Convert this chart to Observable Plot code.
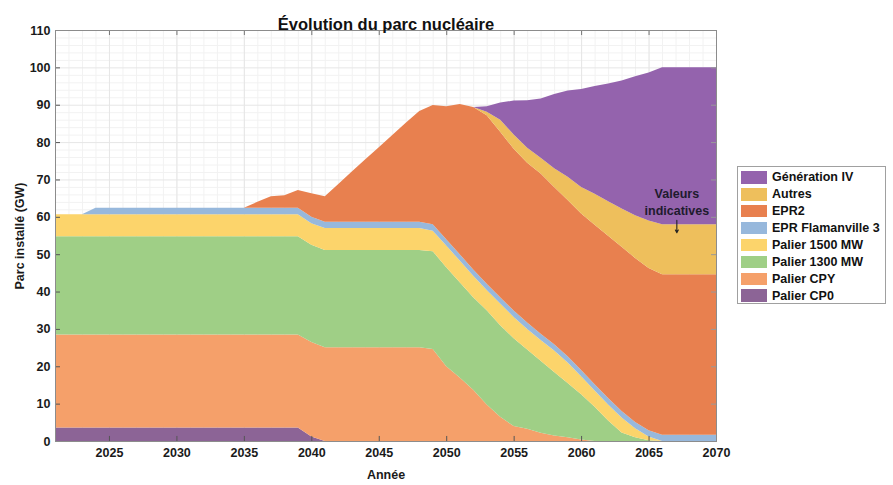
<!DOCTYPE html>
<html><head><meta charset="utf-8">
<script src="https://cdn.jsdelivr.net/npm/d3@7"></script>
<script src="https://cdn.jsdelivr.net/npm/@observablehq/plot@0.6"></script>
<style>
body{margin:0;background:#fff;font-family:"Liberation Sans",Arial,sans-serif;}
#wrap{position:relative;width:893px;height:485px;}
#wrap svg text{font-weight:bold;}
#legend{position:absolute;left:737px;top:166px;width:149px;height:138px;border:1px solid #a0a0a0;background:#fff;box-sizing:border-box;padding-top:2px;}
.row{display:flex;align-items:center;height:16.9px;}
.sw{width:26px;height:12.5px;margin-left:3px;margin-right:5px;flex:none;}
.lab{font-weight:bold;font-size:12.5px;color:#111;white-space:nowrap;}
</style></head>
<body><div id="wrap"></div>
<script>
const years = [2021,2022,2023,2024,2025,2026,2027,2028,2029,2030,
  2031,2032,2033,2034,2035,2036,2037,2038,2039,2040,
  2041,2042,2043,2044,2045,2046,2047,2048,2049,2050,
  2051,2052,2053,2054,2055,2056,2057,2058,2059,2060,
  2061,2062,2063,2064,2065,2066,2067,2068,2069,2070];

const seriesNames = ["Palier CP0","Palier CPY","Palier 1300 MW","Palier 1500 MW","EPR Flamanville 3","EPR2","Autres","Génération IV"];
const seriesColors = ["#8C6496","#F5A06A","#9FCF86","#FCD46B","#97B8DC","#E8804F","#EEBF5C","#9463AD"];

const cp0 = [3.6,3.6,3.6,3.6,3.6,3.6,3.6,3.6,3.6,3.6,
  3.6,3.6,3.6,3.6,3.6,3.6,3.6,3.6,3.6,1.2,
  0,0,0,0,0,0,0,0,0,0,
  0,0,0,0,0,0,0,0,0,0,
  0,0,0,0,0,0,0,0,0,0];
const cpy = [24.9,24.9,24.9,24.9,24.9,24.9,24.9,24.9,24.9,24.9,
  24.9,24.9,24.9,24.9,24.9,24.9,24.9,24.9,24.9,25.3,
  25.1,25.1,25.1,25.1,25.1,25.1,25.1,25.1,24.6,20.0,
  17.0,13.7,9.8,6.5,4.0,3.3,2.2,1.5,1.0,0.4,
  0,0,0,0,0,0,0,0,0,0];
const p1300 = [26.3,26.3,26.3,26.3,26.3,26.3,26.3,26.3,26.3,26.3,
  26.3,26.3,26.3,26.3,26.3,26.3,26.3,26.3,26.3,26.0,
  26.0,26.0,26.0,26.0,26.0,26.0,26.0,26.0,26.2,26.5,
  25.5,24.8,25.2,24.5,23.5,21.2,19.3,17.0,14.5,12.1,
  9.2,5.5,2.3,1.0,0.2,0,0,0,0,0];
const p1500 = [5.9,5.9,5.9,5.9,5.9,5.9,5.9,5.9,5.9,5.9,
  5.9,5.9,5.9,5.9,5.9,5.9,5.9,5.9,5.9,5.8,
  5.9,5.9,5.9,5.9,5.9,5.9,5.9,5.9,5.5,5.8,
  5.8,5.7,5.4,5.8,5.7,5.5,5.5,5.7,5.5,4.8,
  4.3,4.3,4.0,2.4,1.0,0,0,0,0,0];
const flamanville = [0,0,0,1.7,1.7,1.7,1.7,1.7,1.7,1.7,
  1.7,1.7,1.7,1.7,1.7,1.7,1.7,1.7,1.7,1.7,
  1.7,1.7,1.7,1.7,1.7,1.7,1.7,1.7,1.7,1.7,
  1.7,1.7,1.7,1.7,1.7,1.7,1.7,1.7,1.7,1.7,
  1.7,1.7,1.7,1.7,1.7,1.7,1.7,1.7,1.7,1.7];
const epr2 = [0,0,0,0,0,0,0,0,0,0,
  0,0,0,0,0,1.6,3.1,3.4,4.8,6.3,
  6.8,10.1,13.4,16.7,19.9,23.2,26.5,29.6,31.9,35.6,
  40.2,43.5,45.1,44.3,43.3,42.8,42.9,42.1,41.8,41.9,
  42.7,43.4,44.0,43.9,43.4,42.9,42.9,42.9,42.9,42.9];
const autres = [0,0,0,0,0,0,0,0,0,0,
  0,0,0,0,0,0,0,0,0,0,
  0,0,0,0,0,0,0,0,0,0,
  0,0,0.9,3.2,3.8,4.0,4.2,5.0,6.2,7.1,
  8.3,9.3,10.2,11.4,12.7,13.4,13.4,13.4,13.4,13.4];
const genIV = [0,0,0,0,0,0,0,0,0,0,
  0,0,0,0,0,0,0,0,0,0,
  0,0,0,0,0,0,0,0,0,0,
  0,0,1.5,4.6,9.1,12.7,15.9,19.9,23.1,26.2,
  28.8,31.5,34.3,37.2,39.6,42.0,42.0,42.0,42.0,42.0];

const xTicks = [2025,2030,2035,2040,2045,2050,2055,2060,2065,2070];
const yTicks = [0,10,20,30,40,50,60,70,80,90,100,110];
const minorX = years;
const minorY = [2,4,6,8,12,14,16,18,22,24,26,28,32,34,36,38,42,44,46,48,52,54,56,58,62,64,66,68,72,74,76,78,82,84,86,88,92,94,96,98,102,104,106,108];

const titleText = "Évolution du parc nucléaire";
const xLabel = "Année";
const yLabel = "Parc installé (GW)";
const note = [{x: 2067.06, y: 64.3, text: "Valeurs\nindicatives"}];
const noteArrow = [{x: 2067.06, y1: 59.2, y2: 55.9}];

const seriesValues = [cp0, cpy, p1300, p1500, flamanville, epr2, autres, genIV];
const rows = [];
seriesNames.forEach((s, i) => years.forEach((yr, j) => rows.push({year: yr, series: s, value: seriesValues[i][j]})));

const tickLenY = 1.35, tickLenX = 0.37;

const chart = Plot.plot({
  width: 893, height: 485,
  marginLeft: 55, marginRight: 177, marginTop: 30, marginBottom: 44,
  style: {fontFamily: "'Liberation Sans', Arial, sans-serif", background: "white", color: "#1a1a1a"},
  x: {domain: [2021, 2070]},
  y: {domain: [0, 110]},
  color: {domain: seriesNames, range: seriesColors},
  marks: [
    Plot.ruleX(minorX, {stroke: "#f2f2f2"}),
    Plot.ruleY(minorY, {stroke: "#f2f2f2"}),
    Plot.ruleX(xTicks, {stroke: "#e6e6e6"}),
    Plot.ruleY(yTicks, {stroke: "#e6e6e6"}),
    Plot.areaY(rows, {x: "year", y: "value", z: "series", fill: "series", order: seriesNames, curve: "linear"}),
    Plot.ruleX(xTicks, {x: d => d, y1: 110, y2: 110 - tickLenY, stroke: "#777"}),
    Plot.ruleX(xTicks, {x: d => d, y1: 0, y2: tickLenY, stroke: "#555"}),
    Plot.ruleY(yTicks, {y: d => d, x1: 2021, x2: 2021 + tickLenX, stroke: "#555"}),
    Plot.ruleY(yTicks, {y: d => d, x1: 2070, x2: 2070 - tickLenX, stroke: "#999"}),
    Plot.frame({stroke: "#8c8c8c"}),
    Plot.text(note, {x: "x", y: "y", text: "text", fontSize: 12.5, lineHeight: 1.38, fill: "#1e1b2e"}),
    Plot.arrow(noteArrow, {x1: "x", x2: "x", y1: "y1", y2: "y2", stroke: "#222", strokeWidth: 1.1, headLength: 4}),
    Plot.axisX({ticks: xTicks, tickSize: 0, tickPadding: 7, tickFormat: d => String(d), fontSize: 12.5, label: xLabel, labelAnchor: "center", labelArrow: "none", labelOffset: 37}),
    Plot.axisY({ticks: yTicks, tickSize: 0, tickPadding: 5, fontSize: 12.5, label: yLabel, labelAnchor: "center", labelArrow: "none", labelOffset: 40}),
    Plot.text([titleText], {frameAnchor: "top", dy: -12, fontSize: 16.5, fill: "#111"})
  ]
});

const wrap = document.getElementById("wrap");
wrap.appendChild(chart);

const legend = document.createElement("div");
legend.id = "legend";
[...seriesNames].reverse().forEach(s => {
  const row = document.createElement("div");
  row.className = "row";
  const sw = document.createElement("div");
  sw.className = "sw";
  sw.style.background = seriesColors[seriesNames.indexOf(s)];
  const lab = document.createElement("span");
  lab.className = "lab";
  lab.textContent = s;
  row.appendChild(sw); row.appendChild(lab);
  legend.appendChild(row);
});
wrap.appendChild(legend);
</script>
</body></html>
